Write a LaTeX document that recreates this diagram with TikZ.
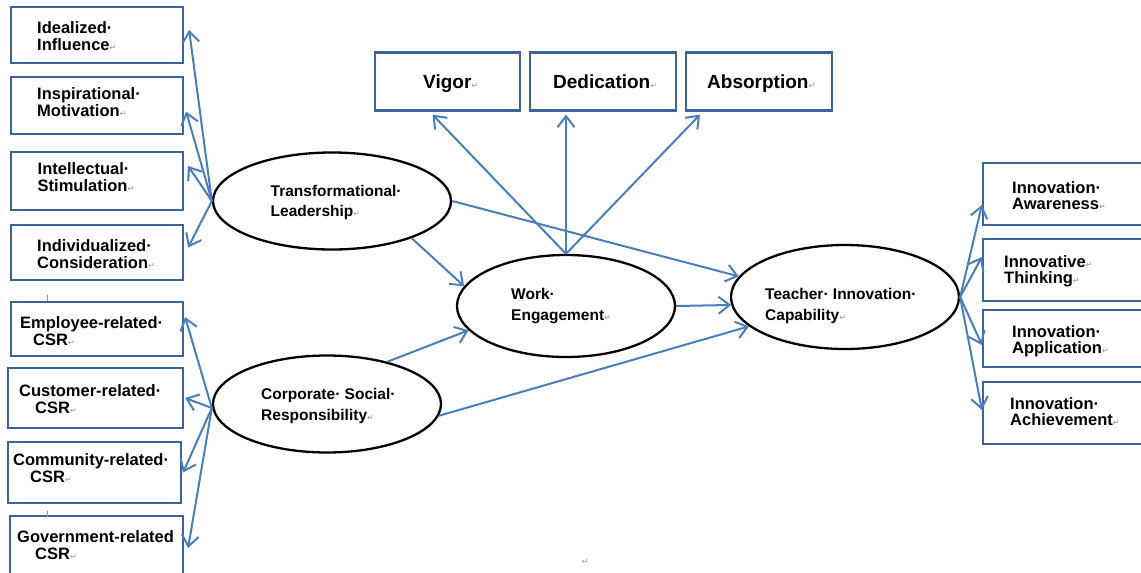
\documentclass[tikz,border=0pt]{standalone}
\usepackage{fontspec}
\setmainfont{Liberation Sans}
\newfontfamily\dvfont{DejaVu Sans}
\usetikzlibrary{shapes.geometric,arrows.meta}
\definecolor{arrblue}{RGB}{74,126,187}
\definecolor{boxblue}{RGB}{60,100,155}
\definecolor{retgray}{RGB}{150,150,150}
\newcommand\retmark{{\dvfont\mdseries\fontsize{8}{8}\selectfont\color{retgray}↵}}
\begin{document}
\begin{tikzpicture}[x=1pt,y=-1pt,
 box/.style={draw=boxblue,line width=2.2pt,inner sep=0pt,rectangle},
 ell/.style={draw=black,line width=2.3pt,ellipse,inner sep=0pt},
 lbl/.style={anchor=base west,inner sep=0pt,align=left,font=\bfseries\fontsize{16.5}{17}\selectfont},
 rlbl/.style={anchor=base west,inner sep=0pt,align=left,font=\bfseries\fontsize{16.5}{16}\selectfont},
 elbl/.style={anchor=base west,inner sep=0pt,align=left,font=\bfseries\fontsize{15.5}{20.5}\selectfont},
 tlbl/.style={anchor=base west,inner sep=0pt,align=left,font=\bfseries\fontsize{19}{19}\selectfont},
 arr/.style={draw=arrblue,line width=2pt,-{Straight Barb[length=11pt,width=17pt]}}]
\useasboundingbox (0,0) rectangle (1141,573);
% left boxes
\node[box,minimum width=172pt,minimum height=56pt] (b1) at (97,35) {};
\node[box,minimum width=172pt,minimum height=57pt] (b2) at (97,105.5) {};
\node[box,minimum width=172pt,minimum height=58pt] (b3) at (97,181) {};
\node[box,minimum width=172pt,minimum height=55pt] (b4) at (97,252.5) {};
\node[box,minimum width=172pt,minimum height=54pt] (b5) at (97,329) {};
\node[box,minimum width=175pt,minimum height=60pt] (b6) at (95.5,398) {};
\node[box,minimum width=173pt,minimum height=61pt] (b7) at (94.5,472.5) {};
\node[box,minimum width=173pt,minimum height=64pt] (b8) at (96.5,548) {};
\node[lbl] (t1) at (37,50.7) {Idealized·\\Influence\retmark};
\node[lbl] (t2) at (37,116.7) {Inspirational·\\Motivation\retmark};
\node[lbl] (t3) at (37.5,191.7) {Intellectual·\\Stimulation\retmark};
\node[lbl] (t4) at (37,268.3) {Individualized·\\Consideration\retmark};
\node[lbl] (t5) at (20,345) {Employee-related·\\\hspace*{13pt}CSR\retmark};
\node[lbl] (t6) at (19,413) {Customer-related·\\\hspace*{16pt}CSR\retmark};
\node[lbl] (t7) at (13,482) {Community-related·\\\hspace*{17pt}CSR\retmark};
\node[lbl] (t8) at (17,559) {Government-related\\\hspace*{18pt}CSR\retmark};
% top boxes
\node[box,minimum width=145pt,minimum height=58pt] (vig) at (447.5,81.5) {};
\node[box,minimum width=146pt,minimum height=58pt] (ded) at (603,81.5) {};
\node[box,minimum width=146.5pt,minimum height=58pt] (abs) at (759,81.5) {};
\node[tlbl] (tv) at (423,88.3) {Vigor\retmark};
\node[tlbl] (td) at (553,88.3) {Dedication\retmark};
\node[tlbl] (ta) at (707,88.3) {Absorption\retmark};
% right boxes
\node[box,minimum width=165pt,minimum height=62pt] (r1) at (1065.5,194) {};
\node[box,minimum width=165pt,minimum height=62pt] (r2) at (1065.5,270) {};
\node[box,minimum width=165pt,minimum height=57pt] (r3) at (1065.5,338.5) {};
\node[box,minimum width=165pt,minimum height=62pt] (r4) at (1065.5,413) {};
\node[rlbl] (s1) at (1012,209.3) {Innovation·\\Awareness\retmark};
\node[rlbl] (s2) at (1004,283.3) {Innovative\retmark\\Thinking\retmark};
\node[rlbl] (s3) at (1012,353) {Innovation·\\Application\retmark};
\node[rlbl] (s4) at (1010,425) {Innovation·\\Achievement\retmark};
% ellipses
\node[ell,minimum width=238pt,minimum height=97pt] (TL) at (332,201) {};
\node[ell,minimum width=228pt,minimum height=97pt] (CSR) at (327,404) {};
\node[ell,minimum width=218pt,minimum height=102pt] (WE) at (566,306) {};
\node[ell,minimum width=228pt,minimum height=104pt] (TIC) at (845,297) {};
\node[elbl] (eTL) at (270.5,216.7) {Transformational·\\Leadership\retmark};
\node[elbl] (eCSR) at (261,420) {Corporate· Social·\\Responsibility\retmark};
\node[elbl] (eWE) at (511,320) {Work·\\Engagement\retmark};
\node[elbl] (eTIC) at (765,320) {Teacher· Innovation·\\Capability\retmark};
% stray marks
\node[inner sep=0pt,font=\fontsize{11}{11}\selectfont] (pm) at (585,562) {\retmark};
\draw[retgray,line width=0.6pt] (47,295) -- (47,301);
\draw[retgray,line width=0.6pt] (47,511) -- (47,517);
% arrows left
\draw[arr] (TL.180) -- ([shift={(5,-5)}]b1.east);
\draw[arr] (TL.180) -- ([shift={(2,6)}]b2.east);
\draw[arr] (TL.180) -- ([shift={(4,-15)}]b3.east);
\draw[arr] (TL.180) -- ([shift={(4,-5)}]b4.east);
\draw[arr] ([shift={(0,4)}]CSR.180) -- ([shift={(1,-12)}]b5.east);
\draw[arr] ([shift={(0,4)}]CSR.180) -- ([shift={(1,0)}]b6.east);
\draw[arr] ([shift={(0,4)}]CSR.180) -- ([shift={(1,0)}]b7.east);
\draw[arr] ([shift={(0,4)}]CSR.180) -- ([shift={(4,0)}]b8.east);
% arrows top
\draw[arr] (WE.90) -- ([shift={(-15,3)}]vig.south);
\draw[arr] (WE.90) -- ([shift={(-37,3)}]ded.south);
\draw[arr] (WE.90) -- ([shift={(-59,3)}]abs.south);
% middle arrows
\draw[arr] (TL.-25) -- (WE.169);
\draw[arr] (TL.0) -- (TIC.169);
\draw[arr] (CSR.35) -- (WE.-166);
\draw[arr] (CSR.-6) -- (TIC.-163);
\draw[arr] (WE.0) -- (TIC.184);
% arrows right
\draw[arr] (TIC.0) -- ([shift={(0,11)}]r1.west);
\draw[arr] (TIC.0) -- ([shift={(0,-13)}]r2.west);
\draw[arr] (TIC.0) -- ([shift={(0,6.5)}]r3.west);
\draw[arr] (TIC.0) -- ([shift={(0,-3)}]r4.west);
\end{tikzpicture}
\end{document}
